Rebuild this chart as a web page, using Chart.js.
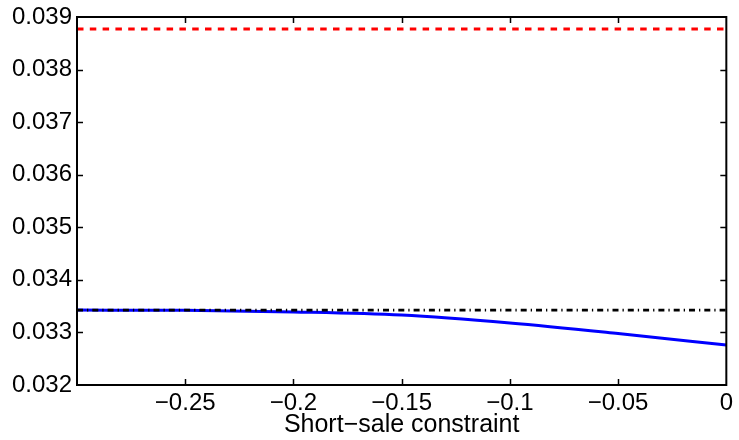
<!DOCTYPE html>
<html>
<head>
<meta charset="utf-8">
<script src="https://cdn.jsdelivr.net/npm/chart.js@4/dist/chart.umd.min.js"></script>
<style>
  html, body { margin: 0; padding: 0; background: #fff; }
  #wrap { width: 739px; height: 440px; }
</style>
</head>
<body>
<div id="wrap"><canvas id="c" width="739" height="440"></canvas></div>
<script>
// Short-sale constraint grid and the constrained value
const constraintGrid = [-0.3, -0.25, -0.2, -0.15, -0.1, -0.05, 0];
const constrainedValue = [0.033425, 0.03342, 0.03339, 0.03333, 0.03318, 0.03298, 0.03276];

// Horizontal reference levels (start and end of the range)
const levelX = [-0.3, 0];
const upperLevel = [0.03877, 0.03877];
const unconstrainedLevel = [0.033425, 0.033425];

// Axis ticks
const xTickValues = [-0.3, -0.25, -0.2, -0.15, -0.1, -0.05, 0];
const xTickLabels = ['', '\u22120.25', '\u22120.2', '\u22120.15', '\u22120.1', '\u22120.05', '0'];
const yTickValues = [0.032, 0.033, 0.034, 0.035, 0.036, 0.037, 0.038, 0.039];
const yTickLabels = ['0.032', '0.033', '0.034', '0.035', '0.036', '0.037', '0.038', '0.039'];

const xTitle = 'Short\u2212sale constraint';
const FONT = "'Liberation Sans', Arial, Helvetica, sans-serif";

const pts = (xs, ys) => xs.map((x, i) => ({ x: x, y: ys[i] }));

// Box frame with inward tick marks on all four sides
const boxPlugin = {
  id: 'box',
  afterDatasetsDraw(chart) {
    const { ctx, chartArea: a, scales } = chart;
    ctx.save();
    ctx.strokeStyle = '#000';
    ctx.lineWidth = 1.5;
    ctx.beginPath();
    const L = 6;
    scales.x.ticks.forEach(t => {
      const px = Math.round(scales.x.getPixelForValue(t.value)) + 0.5;
      if (px - a.left < 2 || a.right - px < 2) return;
      ctx.moveTo(px, a.bottom); ctx.lineTo(px, a.bottom - L);
      ctx.moveTo(px, a.top); ctx.lineTo(px, a.top + L);
    });
    scales.y.ticks.forEach(t => {
      const py = Math.round(scales.y.getPixelForValue(t.value)) + 0.5;
      if (py - a.top < 2 || a.bottom - py < 2) return;
      ctx.moveTo(a.left, py); ctx.lineTo(a.left + L, py);
      ctx.moveTo(a.right, py); ctx.lineTo(a.right - L, py);
    });
    ctx.stroke();
    ctx.lineWidth = 2;
    ctx.strokeRect(a.left, a.top, a.right - a.left, a.bottom - a.top);
    ctx.restore();
  }
};

new Chart(document.getElementById('c'), {
  type: 'line',
  data: {
    datasets: [
      {
        data: pts(levelX, upperLevel),
        borderColor: '#ff0000',
        borderWidth: 3,
        borderDash: [6.5, 6.3],
        pointRadius: 0
      },
      {
        data: pts(levelX, unconstrainedLevel),
        borderColor: '#000000',
        borderWidth: 2.6,
        borderDash: [6, 4, 1.3, 4],
        pointRadius: 0
      },
      {
        data: pts(constraintGrid, constrainedValue),
        borderColor: '#0000ff',
        borderWidth: 3,
        cubicInterpolationMode: 'monotone',
        pointRadius: 0
      }
    ]
  },
  options: {
    responsive: false,
    animation: false,
    events: [],
    layout: { padding: { top: 16, right: 8, left: 0, bottom: 0 } },
    plugins: { legend: { display: false }, tooltip: { enabled: false } },
    scales: {
      x: {
        type: 'linear',
        min: -0.3,
        max: 0,
        afterBuildTicks: s => { s.ticks = xTickValues.map(v => ({ value: v })); },
        afterFit: s => { s.height = 55; },
        grid: { display: false, drawTicks: false },
        border: { display: false },
        ticks: {
          autoSkip: false,
          maxRotation: 0,
          padding: 6,
          color: '#000',
          font: { family: FONT, size: 24, lineHeight: 1 },
          callback: (v, i) => xTickLabels[i]
        },
        title: {
          display: true,
          text: xTitle,
          color: '#000',
          font: { family: FONT, size: 25, lineHeight: 1 },
          padding: { top: 0, bottom: 2 }
        }
      },
      y: {
        type: 'linear',
        min: 0.032,
        max: 0.039,
        afterBuildTicks: s => { s.ticks = yTickValues.map(v => ({ value: v })); },
        afterFit: s => { s.width = 77; },
        grid: { display: false, drawTicks: false },
        border: { display: false },
        ticks: {
          autoSkip: false,
          padding: 5,
          color: '#000',
          font: { family: FONT, size: 24, lineHeight: 1 },
          callback: (v, i) => yTickLabels[i]
        }
      }
    }
  },
  plugins: [boxPlugin]
});
</script>
</body>
</html>
